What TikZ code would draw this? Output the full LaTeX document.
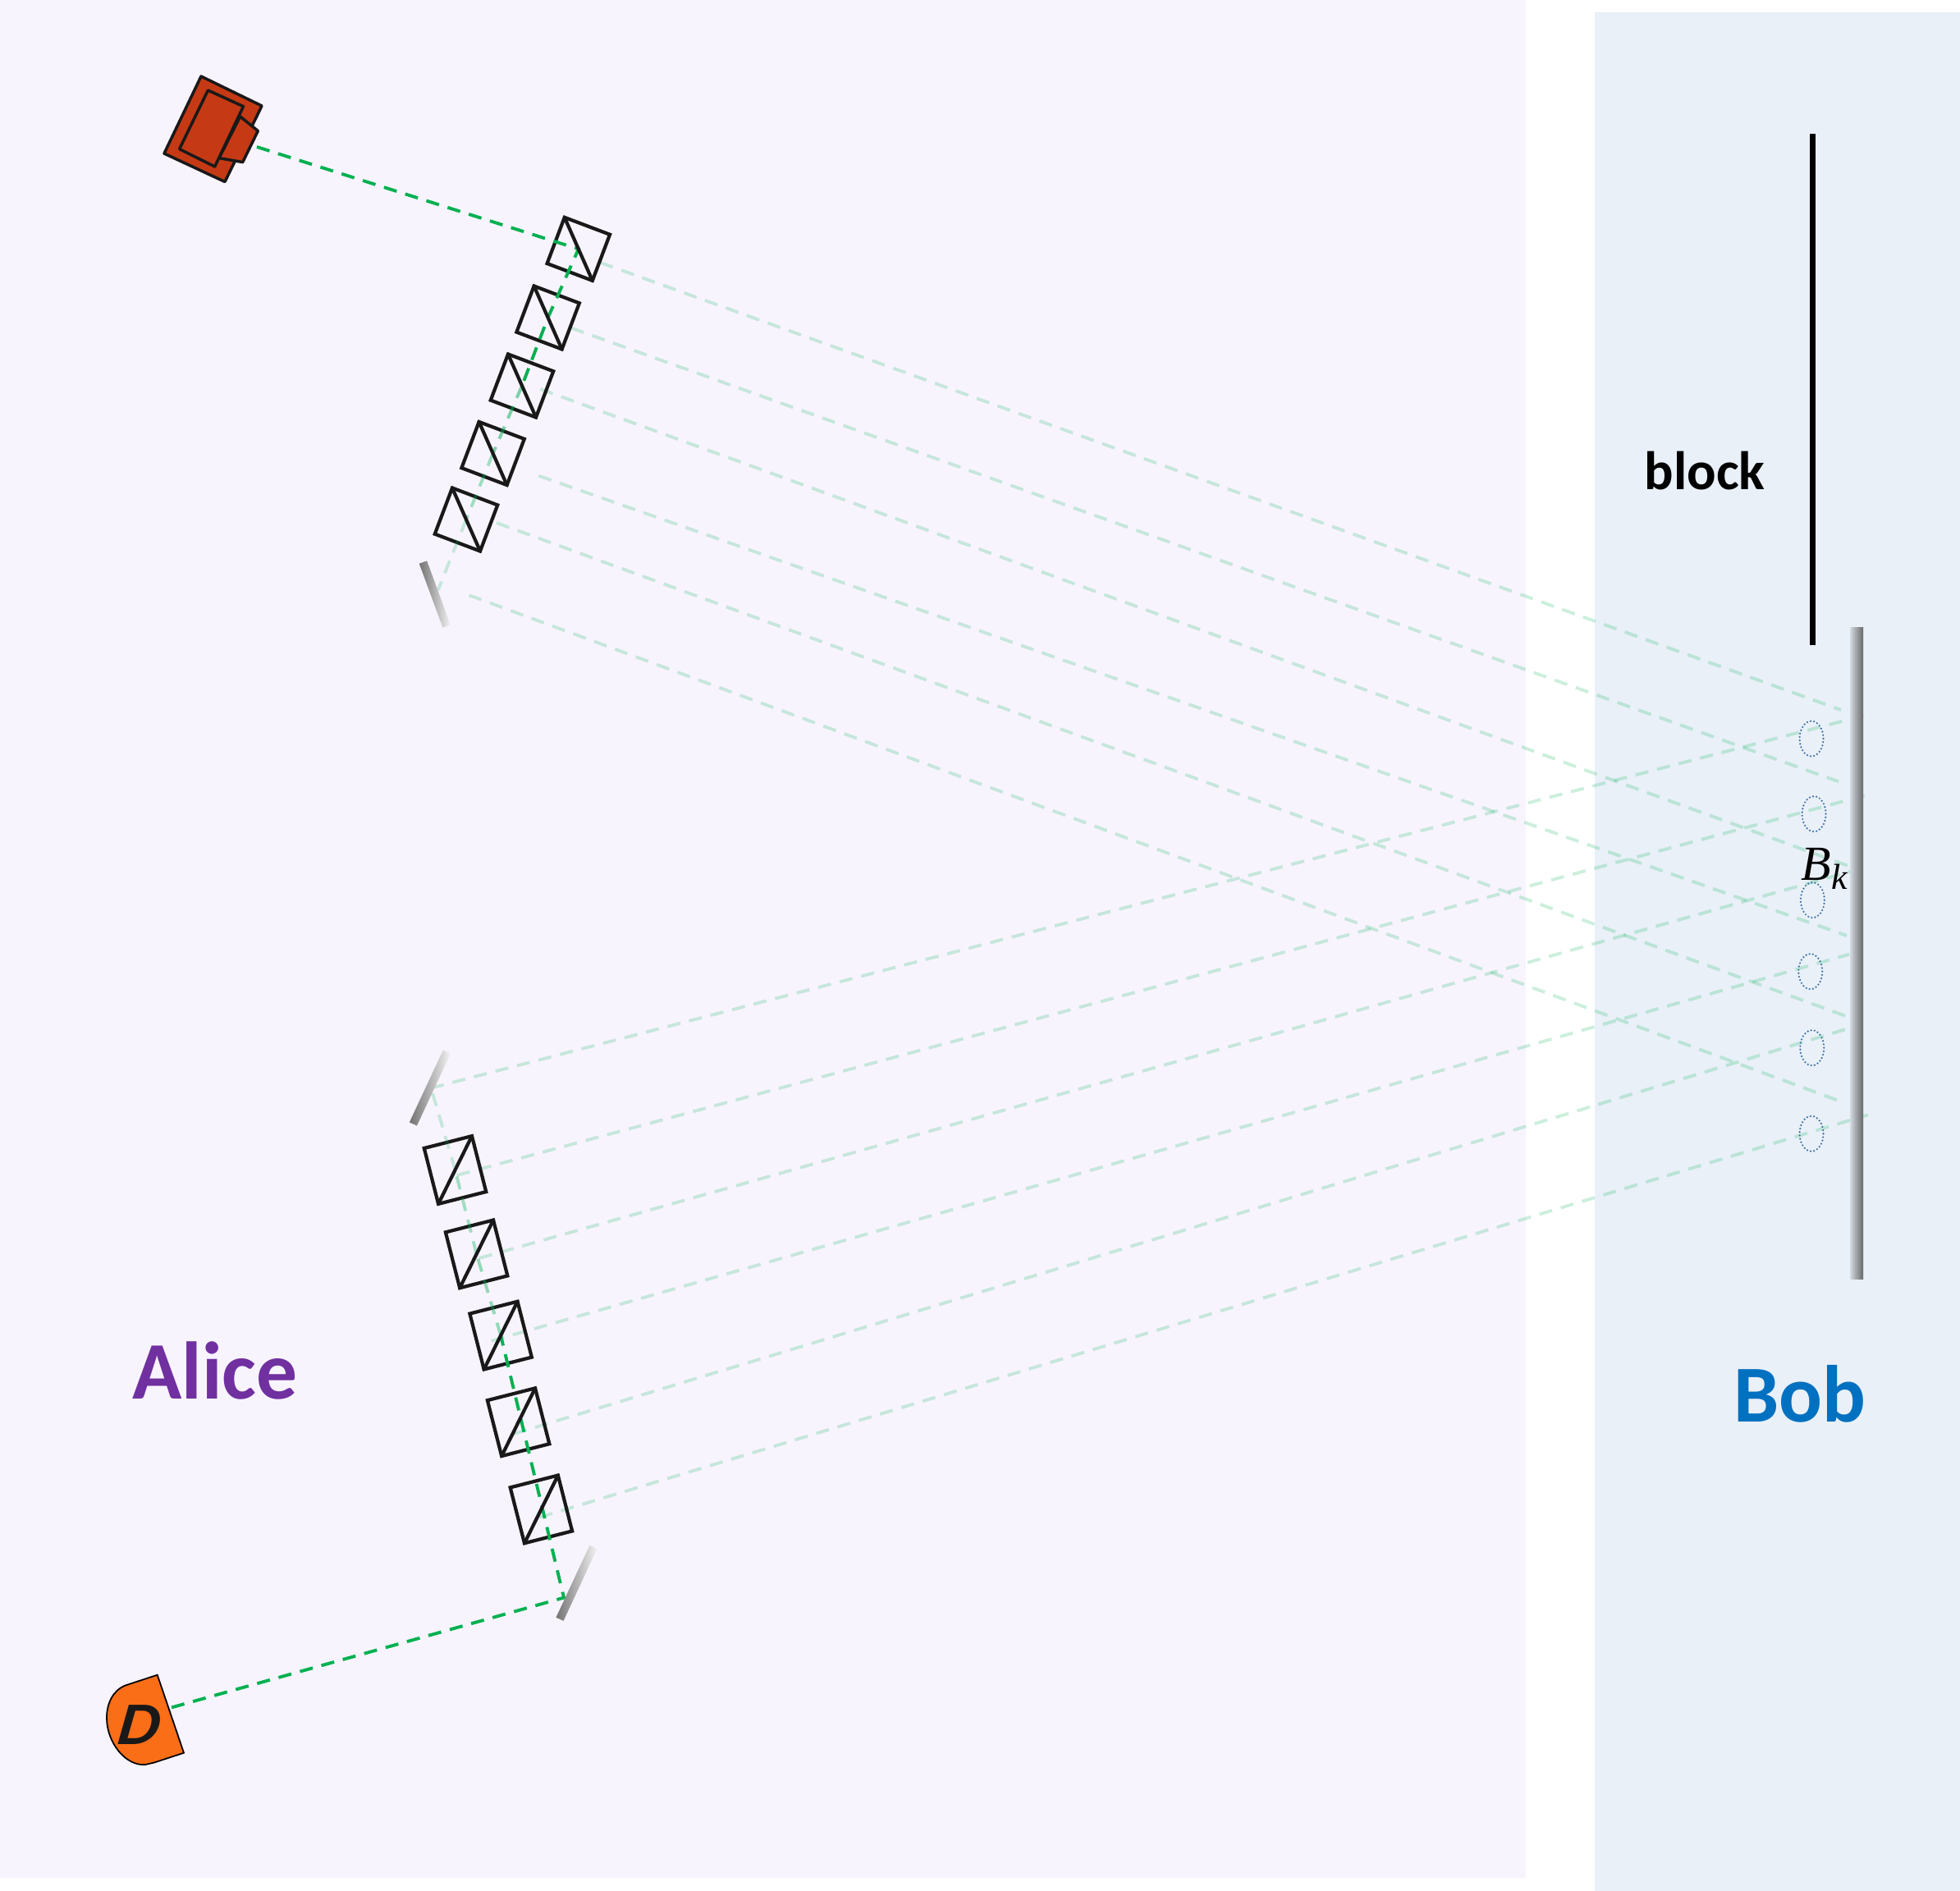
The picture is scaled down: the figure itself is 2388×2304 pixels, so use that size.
\documentclass[tikz,border=0pt]{standalone}
\usepackage{amsmath,amssymb}
\usepackage{fontspec}
\setmainfont{Carlito}
\newfontfamily\bkfont{Liberation Serif}
\usepackage{tikz}
\usepackage{xcolor}
\definecolor{alicebg}{RGB}{248, 244, 254}
\definecolor{bobbg}{RGB}{233, 240, 248}
\definecolor{alicetxt}{RGB}{112, 48, 160}
\definecolor{bobtxt}{RGB}{0, 112, 192}
\definecolor{raygreen}{RGB}{0, 176, 80}
\definecolor{laserred}{RGB}{197, 58, 20}
\definecolor{detorange}{RGB}{249, 110, 22}
\definecolor{slitblue}{RGB}{59, 110, 165}
\tikzset{
  ray/.style={raygreen, line width=1.1pt, dash pattern=on 4.6pt off 3.1pt},
  faintray/.style={ray, opacity=0.2},
  bsbase/.style={draw=black!90, line width=1.2pt, inner sep=0pt, outer sep=0pt},
  bsbox/.style={bsbase, minimum width=0.59cm, minimum height=0.6cm, rotate=-20.7},
  bsboxlow/.style={bsbase, minimum width=0.6cm, minimum height=0.7cm, rotate=14.3},
  mirrorbase/.style={left color=black!55, right color=black!5, minimum width=0.1cm, inner sep=0pt, outer sep=0pt},
  mirrorup/.style={mirrorbase, minimum height=0.83cm, rotate=20.2},
  mirrorlow/.style={mirrorbase, minimum height=0.97cm, rotate=-25},
  slit/.style={slitblue, line width=0.7pt, line cap=round, dash pattern=on 0pt off 1.2pt},
  laserpart/.style={draw=black!90, fill=laserred, line width=1pt, line join=round},
  party/.style={font=\bfseries\fontsize{28}{32}\selectfont, inner sep=0pt}
}
\begin{document}
\begin{tikzpicture}[x=0.01cm, y=-0.01cm]
    \useasboundingbox (0,0) rectangle (2388,2304);
    \fill[alicebg] (0,0) rectangle (1859,2288);
    \fill[bobbg] (1943,15) rectangle (2388,2304);

    % hit points and ray ends
    \coordinate (lz) at (313,179);
    \coordinate (dz) at (209,2080.4);
    \coordinate (um) at (533.5,719.5);
    \coordinate (lm) at (525.7,1327.3);
    \coordinate (dm) at (687,1946.6);
    \foreach \n/\ax/\ay/\bx/\by in {1/731.5/320/2243/865, 2/696/399.7/2240/952.3, 3/658.3/474/2251.7/1055,
      4/656.4/579.7/2250/1140, 5/605/637/2251.7/1239, 6/571.4/725.2/2241.7/1341.7} {
      \coordinate (ua\n) at (\ax,\ay);
      \coordinate (ub\n) at (\bx,\by);
    }
    \foreach \n/\ax/\ay/\bx/\by in {1/525/1325.7/2271.7/871.7, 2/556.6/1432/2271.7/969.3, 3/584/1532.9/2255/1061.7,
      4/598.7/1633.8/2253/1162.7, 5/626/1747/2253/1252.7, 6/657.6/1848.6/2275.7/1358.3} {
      \coordinate (da\n) at (\ax,\ay);
      \coordinate (db\n) at (\bx,\by);
    }

    % rays to Bob and back
    \foreach \n in {1,...,6} {
      \draw[faintray] (ua\n) -- (ub\n);
      \draw[faintray] (da\n) -- (db\n);
    }

    % beam splitters
    \foreach \n/\px/\py in {1/704.8/303.4, 2/667.6/387, 3/636/470, 4/600.6/552.5, 5/568/633} {
      \node[bsbox] (u\n) at (\px,\py) {};
    }
    \foreach \n/\px/\py in {1/554.5/1425.5, 2/580.6/1527.9, 3/610.1/1627.1, 4/631.6/1732.7, 5/659.4/1838.9} {
      \node[bsboxlow] (l\n) at (\px,\py) {};
    }

    % beam inside Alice, fading from box to box
    \draw[ray] (lz) -- (u1.center) -- (u2.center) -- (u3.center);
    \draw[ray, opacity=0.5] (u3.center) -- (u4.center);
    \draw[ray, opacity=0.35] (u4.center) -- (u5.center);
    \draw[faintray] (u5.center) -- (um);
    \draw[ray] (dz) -- (dm) -- (l3.center);
    \draw[ray, opacity=0.4] (l3.center) -- (l2.center);
    \draw[ray, opacity=0.35] (l2.center) -- (l1.center);
    \draw[faintray] (l1.center) -- (lm);

    \foreach \n in {1,...,5} {
      \draw[black!90, line width=1.2pt, line cap=round] (u\n.north west) -- (u\n.south east);
      \draw[black!90, line width=1.2pt, line cap=round] (l\n.north east) -- (l\n.south west);
    }

    % mirrors
    \node[mirrorup] (mu) at (529.8,724) {};
    \node[mirrorlow] (ml) at (523.9,1325.5) {};
    \node[mirrorlow] (md) at (702.5,1928.8) {};
    \node[left color=bobbg!90!black, right color=black!60, minimum width=0.157cm, minimum height=7.93cm, inner sep=0pt, outer sep=0pt] (bm) at (2262.2,1161.4) {};

    % laser
    \draw[laserpart] (245,93) -- (319,129) -- (274,221.5) -- (200,187) -- cycle;
    \draw[laserpart] (292.6,142) -- (314.3,159.5) -- (295.7,197.6) -- (266.9,192.6) -- cycle;
    \draw[laserpart] (253.4,110) -- (296.5,129.7) -- (261.7,203) -- (218.6,181.6) -- cycle;

    % detector
    \draw[fill=detorange, line width=0.5pt] (191.7,2040.7) -- (153.3,2053.3) .. controls (138,2059) and (130,2075) .. (130,2093)
      .. controls (130,2123) and (153,2152) .. (177,2150) -- (187.3,2147.7) -- (224,2135.7) -- cycle;
    \node[font=\bfseries\itshape\fontsize{21}{24}\selectfont, text=black!90, inner sep=0pt, xslant=0.15, xscale=1.08] (det) at (170,2101.3) {D};

    % block and slits
    \coordinate (bt) at (2208.5,163);
    \coordinate (bb) at (2208.5,786);
    \draw[line width=2pt] (bt) -- (bb);
    \foreach \n/\px/\py in {1/2207/900, 2/2210/991.7, 3/2208.3/1096.7, 4/2205.7/1183.7, 5/2207.7/1276.7, 6/2207/1381.3} {
      \draw[slit] (\px,\py) ellipse [x radius=14.5, y radius=21.5];
    }

    \node[party, text=alicetxt, font=\bfseries\fontsize{28.3}{32}\selectfont] (alice) at (262,1670) {Alice};
    \node[party, text=bobtxt] (bob) at (2193,1698) {Bob};
    \node[party, font=\bfseries\fontsize{18.8}{22}\selectfont] (blk) at (2077,574) {block};
    \node[font=\bkfont\itshape\fontsize{17}{20}\selectfont, inner sep=0pt] (bk) at (2222.5,1058.5) {B\raisebox{-3.1pt}{\fontsize{12.5}{14}\selectfont k}};
  \end{tikzpicture}
\end{document}
